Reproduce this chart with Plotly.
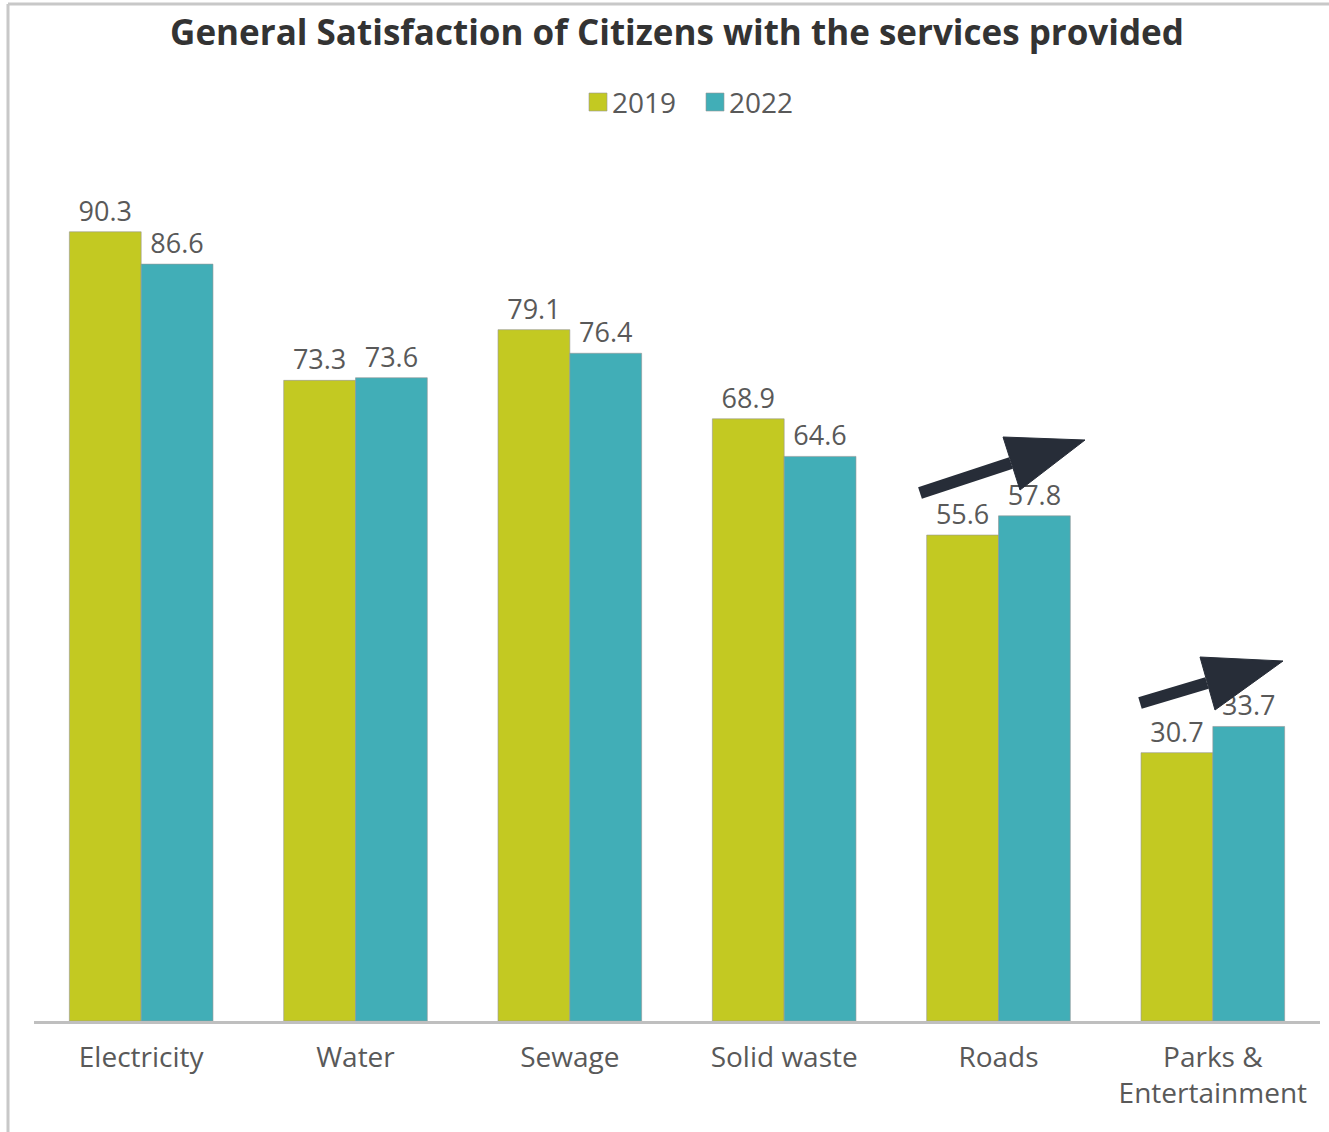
import plotly.graph_objects as go

categories = ["Electricity", "Water", "Sewage", "Solid waste", "Roads", "Parks &<br>Entertainment"]
values_2019 = [90.3, 73.3, 79.1, 68.9, 55.6, 30.7]
values_2022 = [86.6, 73.6, 76.4, 64.6, 57.8, 33.7]
series_names = ["2019", "2022"]

W, H = 1329, 1132
ML, MR, MT, MB = 34, 9, 147, 111
PW, PH = W - ML - MR, H - MT - MB

C19 = "#C3C922"
C22 = "#41AEB7"
LABEL = "#595959"
FONT = "'Open Sans', Lato, sans-serif"

idx = list(range(len(categories)))

fig = go.Figure()
for name, vals, col in [(series_names[0], values_2019, C19), (series_names[1], values_2022, C22)]:
    fig.add_trace(go.Bar(
        x=idx, y=vals, name=name, showlegend=False,
        marker=dict(color=col, line=dict(color="rgba(150,150,150,0.6)", width=1)),
        text=[f"{v:.1f}" for v in vals], textposition="outside",
        textfont=dict(size=27, color=LABEL, family=FONT),
        cliponaxis=False,
    ))

def px2x(p):
    return (p - ML) / PW * len(categories) - 0.5

def px2y(p):
    return (MT + PH - p) / PH * 100

def pxx(p):
    return (p - ML) / PW

def pxy(p):
    return (MT + PH - p) / PH

# trend arrows (pixel-estimated geometry converted to data units)
arrows = [
    dict(tail=(920, 493), base=(1011, 463), c1=(1003, 437), tip=(1085, 440), c2=(1020, 490)),
    dict(tail=(1140, 703), base=(1207, 683), c1=(1200, 657), tip=(1283, 661), c2=(1215, 710)),
]
ARROW = "#272D38"
shapes = []
for a in arrows:
    shapes.append(dict(type="line", xref="x", yref="y",
                       x0=px2x(a["tail"][0]), y0=px2y(a["tail"][1]),
                       x1=px2x(a["base"][0]), y1=px2y(a["base"][1]),
                       line=dict(color=ARROW, width=12)))
    pts = [a["c1"], a["tip"], a["c2"]]
    path = "M " + " L ".join(f"{px2x(p[0])},{px2y(p[1])}" for p in pts) + " Z"
    shapes.append(dict(type="path", xref="x", yref="y", path=path,
                       fillcolor=ARROW, line=dict(color=ARROW, width=1)))

# outer frame (top and left only)
shapes.append(dict(type="line", xref="paper", yref="paper", x0=pxx(8), x1=pxx(W), y0=pxy(4), y1=pxy(4),
                   line=dict(color="#C8C8C8", width=3)))
shapes.append(dict(type="line", xref="paper", yref="paper", x0=pxx(8), x1=pxx(8), y0=pxy(4), y1=pxy(H),
                   line=dict(color="#C8C8C8", width=3)))

# legend (manual, larger square swatches)
annotations = []
legend_items = [(series_names[0], C19, 589), (series_names[1], C22, 706)]
for name, col, x0 in legend_items:
    shapes.append(dict(type="rect", xref="paper", yref="paper",
                       x0=pxx(x0), x1=pxx(x0 + 18), y0=pxy(111), y1=pxy(93),
                       fillcolor=col, line=dict(color="rgba(150,150,150,0.6)", width=1)))
    annotations.append(dict(xref="paper", yref="paper", x=pxx(x0 + 21), y=pxy(102),
                            xanchor="left", yanchor="middle", showarrow=False, text=name,
                            font=dict(size=28, color=LABEL, family=FONT)))

fig.update_layout(
    width=W, height=H,
    margin=dict(l=ML, r=MR, t=MT, b=MB),
    paper_bgcolor="white", plot_bgcolor="white",
    barmode="group", bargap=0.33, bargroupgap=0,
    showlegend=False,
    title=dict(text="<b>General Satisfaction of Citizens with the services provided</b>",
               x=(ML + PW / 2) / W, xanchor="center", y=1 - 33 / H, yanchor="middle",
               font=dict(size=35, color="#333333", family=FONT)),
    xaxis=dict(tickmode="array", tickvals=idx, ticktext=categories, range=[-0.5, len(categories) - 0.5],
               showline=True, linecolor="#BFBFBF", linewidth=3, ticks="", showgrid=False, zeroline=False,
               tickfont=dict(size=28, color=LABEL, family=FONT), ticklabelstandoff=9),
    yaxis=dict(range=[0, 100], visible=False, showgrid=False, zeroline=False),
    shapes=shapes,
    annotations=annotations,
    font=dict(family=FONT),
)

fig.write_html("out.html")
